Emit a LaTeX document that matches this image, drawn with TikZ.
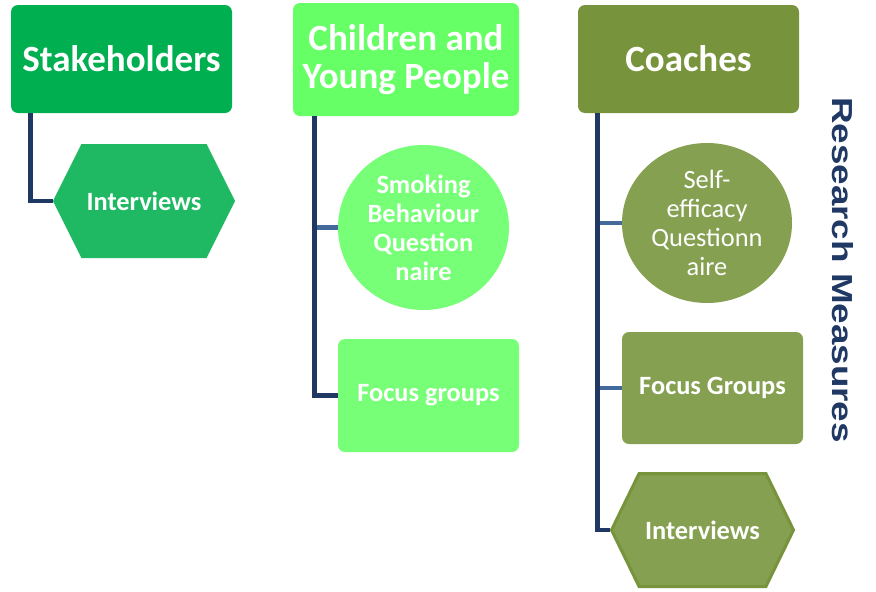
\documentclass[tikz,border=0pt]{standalone}
\usepackage{fontspec}
\setmainfont{Carlito}
\newfontfamily\measurefont{Liberation Sans}
\usetikzlibrary{shapes.geometric, shapes.symbols}
\definecolor{stakegreen}{RGB}{0,176,80}
\definecolor{stakelight}{RGB}{30,185,98}
\definecolor{youthgreen}{RGB}{102,255,102}
\definecolor{youthlight}{RGB}{119,255,119}
\definecolor{coacholive}{RGB}{119,147,60}
\definecolor{coachlight}{RGB}{132,160,80}
\definecolor{navy}{RGB}{31,56,100}
\definecolor{steel}{RGB}{68,106,156}
\tikzstyle{head}=[rounded corners=7pt, text=white, font=\fontsize{37}{38}\selectfont\bfseries, align=center, inner sep=0pt]
\tikzstyle{item}=[text=white, font=\fontsize{26.4}{29}\selectfont\bfseries, align=center, inner sep=0pt]
\tikzstyle{hexa}=[item, signal, signal to=west and east, signal pointer angle=127]
\tikzstyle{trunk}=[line width=4.75pt, navy, line join=miter]
\tikzstyle{branch}=[line width=4.75pt, steel]

\begin{document}
\begin{tikzpicture}[x=1pt, y=-1pt]
\useasboundingbox (0,0) rectangle (876,592);
% Stakeholders
    \node[head, fill=stakegreen, minimum width=221pt, minimum height=108pt] (sh) at (121.5,59) {Stakeholders};
    \node[hexa, fill=stakelight, minimum width=182pt, minimum height=114pt] (iv1) at (144,201) {Interviews};
    \coordinate (sht) at ([xshift=20pt]sh.south west);
    \draw[trunk] (sht) |- (iv1.west);
% Children and young people
    \node[head, fill=youthgreen, minimum width=226pt, minimum height=113pt] (cy) at (406,59.5) {Children and\\Young People};
    \node[item, ellipse, fill=youthlight, minimum width=171pt, minimum height=165pt] (sbq) at (423.5,227.5) {Smoking\\Behaviour\\Question\\naire};
    \node[item, rounded corners=7pt, fill=youthlight, minimum width=181pt, minimum height=113pt] (fg1) at (428.5,395.5) {Focus groups};
    \coordinate (cyt) at ([xshift=22pt]cy.south west);
    \draw[branch] (cyt |- sbq.west) -- (sbq.west);
    \draw[trunk] (cyt) |- (fg1.west);
% Coaches
    \node[head, fill=coacholive, minimum width=221pt, minimum height=108pt] (co) at (688.5,59) {Coaches};
    \node[item, ellipse, fill=coachlight, font=\fontsize{26.4}{29}\selectfont, minimum width=170pt, minimum height=160pt] (sec) at (707,223) {Self-\\efficacy\\Questionn\\aire};
    \node[item, rounded corners=7pt, fill=coachlight, minimum width=181pt, minimum height=112pt] (fg2) at (712.5,388) {Focus Groups};
    \node[hexa, fill=coachlight, draw=coacholive, line width=3pt, signal pointer angle=128, minimum width=182pt, minimum height=113pt] (iv2) at (702.5,530) {Interviews};
    \coordinate (cot) at ([xshift=20pt]co.south west);
    \draw[branch] (cot |- sec.west) -- (sec.west);
    \draw[branch] (cot |- fg2.west) -- (fg2.west);
    \draw[trunk] (cot) |- (iv2.west);
% Side label
    \node[rotate=-90, text=navy, font=\fontsize{29}{30}\selectfont\measurefont\bfseries, inner sep=0pt] (rm) at (842.5,270) {\scalebox{1.27}[1]{Research Measures}};
\end{tikzpicture}
\end{document}
